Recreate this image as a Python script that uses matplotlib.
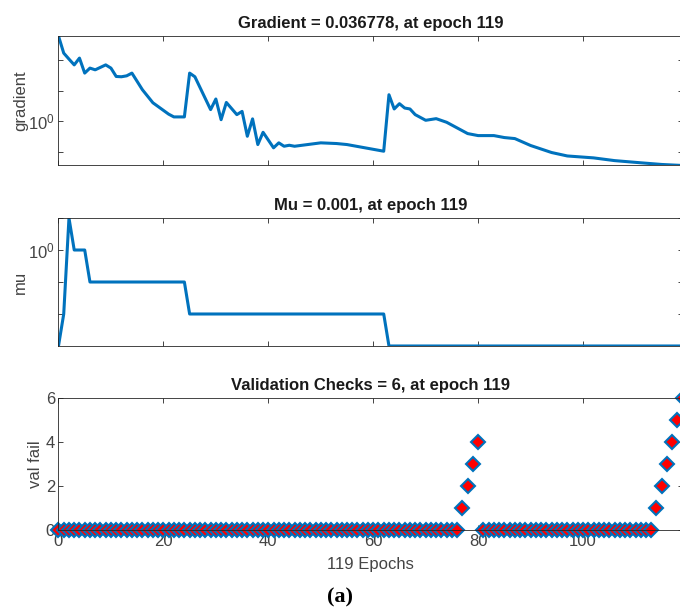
import numpy as np
from matplotlib import pyplot as plt

plt.rcParams["font.family"] = ["Liberation Sans", "DejaVu Sans"]
plt.rcParams["mathtext.fontset"] = "custom"
plt.rcParams["mathtext.rm"] = "Liberation Sans"
plt.rcParams["mathtext.it"] = "Liberation Sans:italic"

# gradient, read at the corners of the curve
grad_epochs = [0, 1, 2, 3, 4, 5, 6, 7, 9, 10, 11, 12, 13, 14, 16, 18, 21, 22, 24,
               25, 26, 29, 30, 31, 32, 34, 35, 36, 37, 38, 39, 41, 42, 43, 44, 45,
               50, 53, 55, 62, 63, 64, 65, 66, 67, 68, 70, 72, 74, 78, 80, 83, 85,
               87, 90, 94, 97, 102, 106, 111, 115, 119]
grad_values = [590, 164, 105, 68, 113, 36.8, 53.5, 47, 68, 53.5, 28.6, 28, 30, 36.8,
               10.6, 4.0, 1.71, 1.39, 1.39, 36.8, 28, 2.4, 5.3, 1.13, 4.1, 1.65, 2.1,
               0.327, 1.2, 0.176, 0.44, 0.138, 0.2, 0.155, 0.167, 0.155, 0.2, 0.19,
               0.176, 0.107, 7.3, 2.52, 3.74, 2.7, 2.52, 1.65, 1.08, 1.22, 0.93, 0.40,
               0.344, 0.344, 0.297, 0.275, 0.164, 0.097, 0.075, 0.065, 0.053, 0.045,
               0.0397, 0.036778]

# mu per epoch (0..119)
mu_values = [0.001, 0.01, 10, 1, 1, 1] + [0.1] * 19 + [0.01] * 38 + [0.001] * 57

# validation fails per epoch (0..119)
val_fail = [0] * 77 + [1, 2, 3, 4] + [0] * 33 + [1, 2, 3, 4, 5, 6]

epochs = np.arange(len(val_fail))
blue = "#0072BD"
grey = "#262626"
text_grey = "#444444"

fig, axs = plt.subplots(3, 1, figsize=(6.8, 6.1), dpi=100)
axs[0].set_position([0.086, 0.7287, 0.918, 0.2123])
axs[1].set_position([0.086, 0.4328, 0.918, 0.2098])
axs[2].set_position([0.086, 0.1311, 0.918, 0.2164])

axs[0].semilogy(grad_epochs, grad_values, color=blue, linewidth=2.2)
axs[0].set_ylim(0.036778, 590)
axs[0].set_yticks([0.1, 1, 10, 100])
axs[0].set_yticklabels(["", "$10^0$", "", ""])
axs[0].set_ylabel("gradient")
axs[0].yaxis.set_label_coords(-0.049, 0.5)
axs[0].set_title("Gradient = 0.036778, at epoch 119")

axs[1].semilogy(epochs, mu_values, color=blue, linewidth=2.2)
axs[1].set_ylim(0.001, 10)
axs[1].set_yticks([0.01, 0.1, 1, 10])
axs[1].set_yticklabels(["", "", "$10^0$", ""])
axs[1].set_ylabel("mu")
axs[1].yaxis.set_label_coords(-0.049, 0.5)
axs[1].set_title("Mu = 0.001, at epoch 119")

axs[2].plot(epochs, val_fail, linestyle="none", marker="D", markersize=7.5,
            markerfacecolor="red", markeredgecolor=blue, markeredgewidth=1.5,
            clip_on=False)
axs[2].set_ylim(0, 6)
axs[2].set_yticks([0, 2, 4, 6])
axs[2].set_ylabel("val fail")
axs[2].yaxis.set_label_coords(-0.024, 0.5)
axs[2].set_xlabel("119 Epochs", labelpad=6)
axs[2].set_title("Validation Checks = 6, at epoch 119")

for ax in axs:
    ax.set_xlim(0, 119)
    ax.set_xticks([0, 20, 40, 60, 80, 100])
    ax.minorticks_off()
    ax.tick_params(direction="in", top=True, right=True, length=3.5, width=0.6,
                   colors=grey, labelsize=12, labelcolor=text_grey, pad=2.5)
    for side in ["left", "right", "top", "bottom"]:
        ax.spines[side].set_color(grey)
        ax.spines[side].set_linewidth(0.6)
    ax.title.set_fontsize(12)
    ax.title.set_fontweight("bold")
    ax.title.set_color("#1a1a1a")
    ax.yaxis.label.set_fontsize(12)
    ax.yaxis.label.set_color(text_grey)
    ax.xaxis.label.set_fontsize(12)
    ax.xaxis.label.set_color(text_grey)

axs[0].tick_params(labelbottom=False)
axs[1].tick_params(labelbottom=False)

fig.text(0.5, 0.02, "(a)", ha="center", va="center", fontsize=16,
         fontweight="bold", family=["Liberation Serif", "DejaVu Serif"])

fig.savefig("out.png", dpi=100)
